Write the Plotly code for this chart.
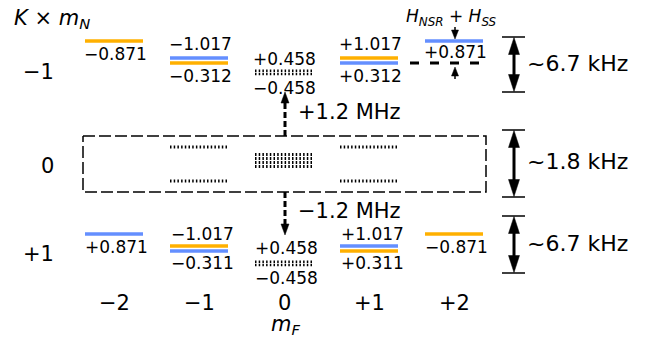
import plotly.graph_objects as go

ORANGE = "#FFB000"
BLUE = "#648FFF"
FONT = "DejaVu Sans"

# ---------------- data ----------------
mF = [-2, -1, 0, 1, 2]
mF_tick_labels = ["−2", "−1", "0", "+1", "+2"]
row_labels = ["−1", "0", "+1"]          # K × m_N

top_single_mF = [-2, 2]
top_single_text = ["−0.871", "+0.871"]
top_single_color = [ORANGE, BLUE]

top_pair_mF = [-1, 1]
top_pair_upper_text = ["−1.017", "+1.017"]
top_pair_lower_text = ["−0.312", "+0.312"]
top_pair_upper_color = [BLUE, ORANGE]
top_pair_lower_color = [ORANGE, BLUE]

bot_single_mF = [-2, 2]
bot_single_text = ["+0.871", "−0.871"]
bot_single_color = [BLUE, ORANGE]

bot_pair_mF = [-1, 1]
bot_pair_upper_text = ["−1.017", "+1.017"]
bot_pair_lower_text = ["−0.311", "+0.311"]
bot_pair_upper_color = [ORANGE, BLUE]
bot_pair_lower_color = [BLUE, ORANGE]

mF0_text = ["+0.458", "−0.458"]
mid_dotted_mF = [-1, 1]
mid_mF0_rows = 4
splitting_text = ["~6.7 kHz", "~1.8 kHz", "~6.7 kHz"]
transition_text = ["+1.2 MHz", "−1.2 MHz"]
hamiltonian_text = "<i>H</i><sub><i>NSR</i></sub> + <i>H</i><sub><i>SS</i></sub>"

# ---------------- layout geometry (screen units) ----------------
PX = 85.0          # pixels per m_F unit
X0 = 284.0         # pixel of m_F = 0
W, H = 650, 342
BODY = 8           # default page margin around the plot div
def xp(p):
    return (p - X0) / PX

HW = 29.0 / PX     # half width of a level line
LW = 3.5

# y positions (pixel units, axis reversed)
TOP = dict(single=41, single_lab=[54, 52], pair=[58, 63], up=44, lo=76,
           dot=[70.7, 74.0], dot_up=59, dot_lo=88, row=72)
BOT = dict(single=234, single_lab=[247, 247], pair=[246, 251], up=234, lo=263,
           dot=[261.7, 265.0], dot_up=248, dot_lo=278, row=254)
MID = dict(rect=[136, 192], dot=[147, 181], dot0=[154.5, 158.5, 162.5, 166.5], row=166)

fig = go.Figure()
ann = []

def seg(x, y, color="black", width=LW, dash=None):
    line = dict(color=color, width=width)
    if dash:
        line["dash"] = dash
    fig.add_trace(go.Scatter(x=x, y=y, mode="lines", line=line,
                             hoverinfo="skip", showlegend=False))

def head(x, ytip, direction, w_px, l_px):
    base = ytip - direction * l_px
    hw = w_px / 2 / PX
    fig.add_trace(go.Scatter(x=[x - hw, x, x + hw, x - hw], y=[base, ytip, base, base],
                             mode="lines", fill="toself", fillcolor="black",
                             line=dict(color="black", width=0.5),
                             hoverinfo="skip", showlegend=False))

def txt(x, y, s, size=17, xanchor="center"):
    ann.append(dict(x=x, y=y, xref="x", yref="y", text=s, showarrow=False,
                    xanchor=xanchor, yanchor="middle",
                    font=dict(family=FONT, size=size, color="black")))

DOT = "1.5px,2.2px"

# ---- top manifold (K×mN = −1) ----
for i, m in enumerate(top_single_mF):
    seg([m - HW, m + HW], [TOP["single"]] * 2, top_single_color[i])
    txt(m + 0.02, TOP["single_lab"][i], top_single_text[i])
for i, m in enumerate(top_pair_mF):
    seg([m - HW, m + HW], [TOP["pair"][0]] * 2, top_pair_upper_color[i])
    seg([m - HW, m + HW], [TOP["pair"][1]] * 2, top_pair_lower_color[i])
    txt(m + 0.02, TOP["up"], top_pair_upper_text[i])
    txt(m + 0.02, TOP["lo"], top_pair_lower_text[i])
for yv in TOP["dot"]:
    seg([0 - HW, 0 + HW], [yv, yv], "black", 2.5, DOT)
txt(0.01, TOP["dot_up"], mF0_text[0])
txt(0.01, TOP["dot_lo"], mF0_text[1])

# ---- bottom manifold (K×mN = +1) ----
for i, m in enumerate(bot_single_mF):
    seg([m - HW, m + HW], [BOT["single"]] * 2, bot_single_color[i])
    txt(m + 0.03, BOT["single_lab"][i], bot_single_text[i])
for i, m in enumerate(bot_pair_mF):
    seg([m - HW, m + HW], [BOT["pair"][0]] * 2, bot_pair_upper_color[i])
    seg([m - HW, m + HW], [BOT["pair"][1]] * 2, bot_pair_lower_color[i])
    txt(m + 0.04, BOT["up"], bot_pair_upper_text[i])
    txt(m + 0.04, BOT["lo"], bot_pair_lower_text[i])
for yv in BOT["dot"]:
    seg([0 - HW, 0 + HW], [yv, yv], "black", 2.5, DOT)
txt(0.03, BOT["dot_up"], mF0_text[0])
txt(0.03, BOT["dot_lo"], mF0_text[1])

# ---- middle manifold (K×mN = 0) ----
r0, r1 = MID["rect"]
seg([xp(83), xp(486), xp(486), xp(83), xp(83)], [r0, r0, r1, r1, r0], "black", 1.5, "12px,4px")
for m in mid_dotted_mF:
    for yv in MID["dot"]:
        seg([m - HW, m + HW], [yv, yv], "black", 3, DOT)
for yv in MID["dot0"][:mid_mF0_rows]:
    seg([0 - HW, 0 + HW], [yv, yv], "black", 3, DOT)

# ---- transitions between manifolds ----
xa = xp(285)
seg([xa, xa], [r0, 102], "black", 3, "6px,3px")
head(xa, 92, -1, 8, 11)
seg([xa, xa], [r1, 225], "black", 3, "6px,3px")
head(xa, 235, 1, 8, 11)
txt(xp(296), 112, transition_text[0], 21, "left")
txt(xp(296), 211, transition_text[1], 21, "left")

# ---- H_NSR + H_SS marker ----
xh = xp(455)
seg([xh, xh], [27, 31], "black", 1.5)
head(xh, 39, 1, 7, 9)
seg([xh, xh], [79, 75], "black", 1.5)
head(xh, 67, -1, 7, 9)
seg([xp(410), xp(483)], [63, 63], "black", 3, "9px,11px")
txt(xp(451), 17, hamiltonian_text, 17)

# ---- splitting brackets ----
xb = xp(514)
for (c0, c1), label, ly in zip([(37, 92), (130, 197), (216, 273)], splitting_text, [63, 161, 243]):
    seg([xp(502), xp(525)], [c0, c0], "black", 1.5)
    seg([xp(502), xp(525)], [c1, c1], "black", 1.5)
    seg([xb, xb], [c0 + 14, c1 - 14], "black", 3)
    head(xb, c0 + 0.5, -1, 11, 17)
    head(xb, c1 - 0.5, 1, 11, 17)
    txt(xp(525), ly, label, 22, "left")

# ---- axis-like labels ----
for m, lab in zip(mF, mF_tick_labels):
    txt(m, 303, lab, 21)
txt(0.02, 325, "<i>m</i><sub><i>F</i></sub>", 21)
txt(xp(52), 19, "<i>K</i> × <i>m</i><sub><i>N</i></sub>", 21)
for lab, yv in zip(row_labels, [TOP["row"], MID["row"], BOT["row"]]):
    txt(xp(56), yv, lab, 21, "right")

fig.update_layout(
    width=W - BODY, height=H - BODY, margin=dict(l=0, r=0, t=0, b=0),
    paper_bgcolor="white", plot_bgcolor="white", showlegend=False,
    annotations=ann,
    xaxis=dict(range=[xp(BODY), xp(W)], visible=False, fixedrange=True),
    yaxis=dict(range=[H, BODY], visible=False, fixedrange=True),
)
fig.write_html("out.html")
